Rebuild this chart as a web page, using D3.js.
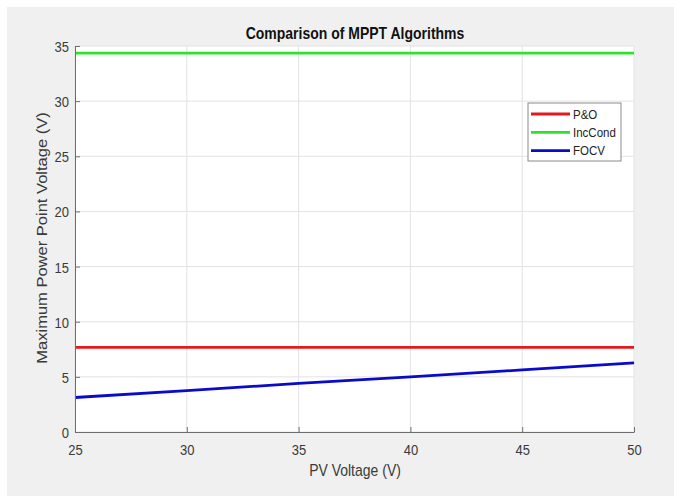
<!DOCTYPE html>
<html><head><meta charset="utf-8">
<script src="https://cdn.jsdelivr.net/npm/d3@7"></script>
<style>body{margin:0;background:#fff;}svg{display:block;font-family:"Liberation Sans",Arial,sans-serif;}</style>
</head><body>
<svg id="c" width="674" height="496"></svg>
<script>
const pvVoltage = [25, 30, 35, 40, 45, 50];
const poValues = [7.67, 7.67, 7.67, 7.67, 7.67, 7.67];
const incCondValues = [34.35, 34.35, 34.35, 34.35, 34.35, 34.35];
const focvValues = [3.13, 3.75, 4.4, 5.0, 5.63, 6.27];
const xTicks = [25, 30, 35, 40, 45, 50];
const yTicks = [0, 5, 10, 15, 20, 25, 30, 35];
const seriesNames = ["P&O", "IncCond", "FOCV"];
const seriesColors = ["#e3191c", "#2fe12f", "#0a0acb"];

const S = 1.14; // vertical stretch of the reference text
const svg = d3.select("#c");
svg.append("rect").attr("x", 7).attr("y", 7).attr("width", 667).attr("height", 489).attr("fill", "#f0f0f0");

const L = 75, R = 634, T = 46, B = 432;
const x = d3.scaleLinear().domain([25, 50]).range([L, R]);
const y = d3.scaleLinear().domain([0, 35]).range([B, T]);

svg.append("rect").attr("x", L).attr("y", T).attr("width", R - L).attr("height", B - T).attr("fill", "#fff");

// grid
const g = svg.append("g");
g.selectAll(".gx").data(xTicks).join("line")
  .attr("x1", d => x(d)).attr("x2", d => x(d)).attr("y1", T).attr("y2", B)
  .attr("stroke", "#e3e3e3").attr("stroke-width", 1);
g.selectAll(".gy").data(yTicks).join("line")
  .attr("y1", d => y(d)).attr("y2", d => y(d)).attr("x1", L).attr("x2", R)
  .attr("stroke", "#e3e3e3").attr("stroke-width", 1);

// series
const series = [poValues, incCondValues, focvValues];
const line = d3.line().x((d, i) => x(pvVoltage[i])).y(d => y(d));
series.forEach((s, k) => {
  svg.append("path").datum(s).attr("d", line).attr("fill", "none")
    .attr("stroke", seriesColors[k]).attr("stroke-width", 2.8);
});

// axes
const xAxis = d3.axisBottom(x).tickValues(xTicks).tickSizeInner(-5).tickSizeOuter(0);
const yAxis = d3.axisLeft(y).tickValues(yTicks).tickSizeInner(-5).tickSizeOuter(0);
const ax = svg.append("g").attr("transform", `translate(0,${B})`).call(xAxis);
const ay = svg.append("g").attr("transform", `translate(${L},0)`).call(yAxis);
[ax, ay].forEach(a => {
  a.select(".domain").attr("stroke", "#6e6e6e");
  a.selectAll(".tick line").attr("stroke", "#6e6e6e");
  a.selectAll(".tick text").attr("fill", "#3a3a3a").style("font-size", "13px")
    .style("font-family", "Liberation Sans, Arial, sans-serif").attr("x", 0).attr("y", 0).attr("dy", 0);
});
ax.selectAll(".tick text").attr("transform", `translate(0,23) scale(1,${S})`);
ay.selectAll(".tick text").attr("transform", `translate(-6,5.5) scale(1,${S})`);

// title and labels
svg.append("text").attr("transform", `translate(355,38.5) scale(1,${S})`).attr("text-anchor", "middle")
  .style("font-size", "14px").style("font-weight", "bold").attr("fill", "#111")
  .text("Comparison of MPPT Algorithms");
svg.append("text").attr("transform", `translate(355,476) scale(1,${S})`).attr("text-anchor", "middle")
  .style("font-size", "14px").attr("fill", "#3a3a3a").text("PV Voltage (V)");
svg.append("text").attr("transform", `translate(47,${(T + B) / 2 - 1}) rotate(-90) scale(${S},1)`).attr("text-anchor", "middle")
  .style("font-size", "14.5px").attr("fill", "#3a3a3a").text("Maximum Power Point Voltage (V)");

// legend
const lg = svg.append("g");
lg.append("rect").attr("x", 528).attr("y", 103).attr("width", 93).attr("height", 58)
  .attr("fill", "#fff").attr("stroke", "#8a8a8a").attr("stroke-width", 1);
seriesNames.forEach((n, k) => {
  const yy = 114 + k * 18.3;
  lg.append("line").attr("x1", 531).attr("x2", 570).attr("y1", yy).attr("y2", yy)
    .attr("stroke", seriesColors[k]).attr("stroke-width", 2.8);
  lg.append("text").attr("transform", `translate(573,${yy + 4.5}) scale(1,${S})`)
    .style("font-size", "11.5px").attr("fill", "#222").text(n);
});
</script>
</body></html>
